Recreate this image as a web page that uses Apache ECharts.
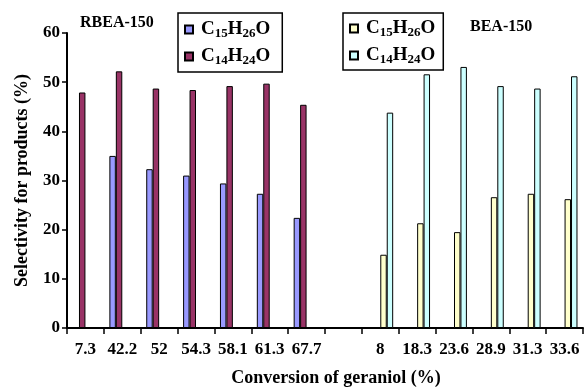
<!DOCTYPE html>
<html><head><meta charset="utf-8">
<script src="https://cdn.jsdelivr.net/npm/echarts@6/dist/echarts.min.js"></script>
<style>html,body{margin:0;padding:0;background:#fff}#c{width:587px;height:387px}</style>
</head><body><div id="c"></div>
<script>
const categories = ['7.3','42.2','52','54.3','58.1','61.3','67.7','','8','18.3','23.6','28.9','31.3','33.6'];
const rbeaC15 = [null,35.0,32.3,31.0,29.4,27.3,22.4,null,null,null,null,null,null,null];
const rbeaC14 = [47.9,52.2,48.7,48.4,49.2,49.7,45.4,null,null,null,null,null,null,null];
const beaC15 = [null,null,null,null,null,null,null,null,14.9,21.3,19.5,26.6,27.3,26.2];
const beaC14 = [null,null,null,null,null,null,null,null,43.8,51.6,53.1,49.2,48.7,51.2];
const yTicks = [0,10,20,30,40,50,60];

const FONT = '"Liberation Serif", "Times New Roman", serif';
const chart = echarts.init(document.getElementById('c'));
const rich = {
  n: {fontFamily: FONT, fontSize: 19, fontWeight: 'bold', color: '#000'},
  s: {fontFamily: FONT, fontSize: 13, fontWeight: 'bold', color: '#000', padding: [8,0,0,0]}
};
function fmt(name){
  if (name.indexOf('C15') >= 0) return '{n|C}{s|15}{n|H}{s|26}{n|O}';
  return '{n|C}{s|14}{n|H}{s|24}{n|O}';
}
const legendBase = {
  orient: 'vertical', icon: 'rect', itemWidth: 8, itemHeight: 8, itemGap: 7,
  borderColor: '#000', borderWidth: 1.5, borderRadius: 0,
  formatter: fmt, textStyle: {rich: rich, padding: [0,0,0,3]}
};
function barStyle(c){ return {color: c, borderColor: '#000', borderWidth: 1}; }
chart.setOption({
  animation: false,
  title: [
    {text: 'RBEA-150', left: 75, top: 10, textStyle: {fontFamily: FONT, fontSize: 16, fontWeight: 'bold', color: '#000'}},
    {text: 'BEA-150', left: 465, top: 14, textStyle: {fontFamily: FONT, fontSize: 16, fontWeight: 'bold', color: '#000'}}
  ],
  legend: [
    Object.assign({}, legendBase, {left: 178, top: 13, padding: [7, 12, 5, 6], data: ['RBEA C15H26O','RBEA C14H24O']}),
    Object.assign({}, legendBase, {left: 343, top: 13, padding: [6, 8, 4, 6], data: ['BEA C15H26O','BEA C14H24O']})
  ],
  grid: {left: 67, right: 4, top: 33, bottom: 59, outerBoundsMode: 'none', containLabel: false},
  xAxis: {
    type: 'category', data: categories,
    axisLine: {lineStyle: {color: '#000', width: 2}},
    axisTick: {show: true, length: 6, lineStyle: {color: '#000', width: 1.5}},
    axisLabel: {fontFamily: FONT, fontSize: 17, fontWeight: 'bold', color: '#000', margin: 13, interval: 0},
    name: 'Conversion of geraniol (%)', nameLocation: 'middle', nameGap: 41,
    nameTextStyle: {fontFamily: FONT, fontSize: 18, fontWeight: 'bold', color: '#000', padding: [0,0,0,22]}
  },
  yAxis: {
    type: 'value', min: yTicks[0], max: yTicks[yTicks.length-1], interval: 10,
    splitLine: {show: false},
    axisLine: {show: true, lineStyle: {color: '#000', width: 2}},
    axisTick: {show: true, length: 5, lineStyle: {color: '#000', width: 1.5}},
    axisLabel: {fontFamily: FONT, fontSize: 17, fontWeight: 'bold', color: '#000', margin: 7},
    name: 'Selectivity for products (%)', nameLocation: 'middle', nameGap: 36,
    nameTextStyle: {fontFamily: FONT, fontSize: 18, fontWeight: 'bold', color: '#000'}
  },
  series: [
    {name: 'RBEA C15H26O', type: 'bar', data: rbeaC15, barGap: '0%', barCategoryGap: '30%', itemStyle: barStyle('#9999FF')},
    {name: 'RBEA C14H24O', type: 'bar', data: rbeaC14, itemStyle: barStyle('#993366')},
    {name: 'BEA C15H26O', type: 'bar', data: beaC15, itemStyle: barStyle('#FFFFCC')},
    {name: 'BEA C14H24O', type: 'bar', data: beaC14, itemStyle: barStyle('#CCFFFF')}
  ]
});
</script></body></html>
